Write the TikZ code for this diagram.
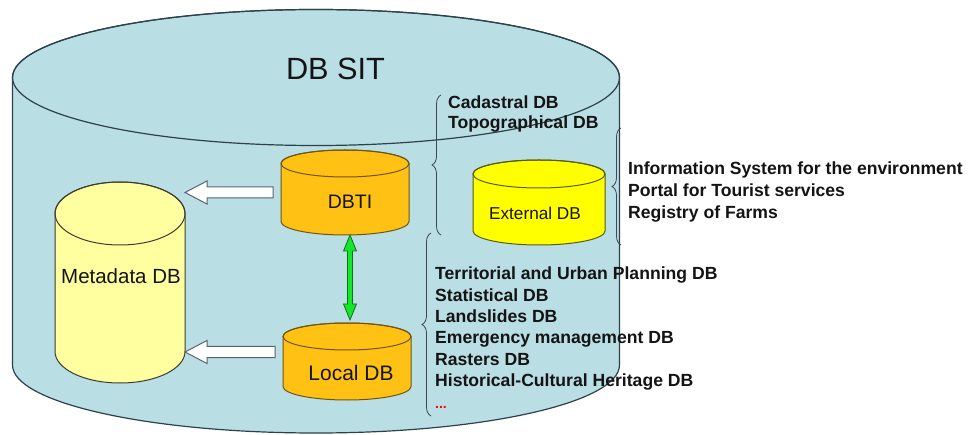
\documentclass[tikz,border=0pt]{standalone}
\usepackage{fontspec}
\setmainfont{Liberation Sans}
\usetikzlibrary{calc,decorations.pathreplacing}
\definecolor{sitfill}{RGB}{185,222,228}
\definecolor{sitdraw}{RGB}{45,65,75}
\definecolor{orangefill}{RGB}{255,193,20}
\definecolor{orangedraw}{RGB}{110,85,20}
\definecolor{extfill}{RGB}{255,255,0}
\definecolor{extdraw}{RGB}{90,90,20}
\definecolor{metafill}{RGB}{255,255,160}
\definecolor{metadraw}{RGB}{60,60,50}
\definecolor{arrowgreen}{RGB}{20,230,40}
\definecolor{arrowgreendraw}{RGB}{20,110,30}
\definecolor{blockdraw}{RGB}{90,100,110}
\definecolor{txt}{RGB}{20,20,20}
\definecolor{bracecol}{RGB}{60,70,80}

\newcommand\mycyl[9]{% #1 name #2 cx #3 ytop #4 ybot #5 rx #6 ry #7 fill #8 draw #9 line width
  \filldraw[fill=#7,draw=#8,line width=#9] (#2-#5,#3) -- (#2-#5,#4)
     arc[start angle=180,end angle=360,x radius=#5pt,y radius=#6pt] -- (#2+#5,#3)
     arc[start angle=0,end angle=180,x radius=#5pt,y radius=#6pt] -- cycle;
  \draw[draw=#8,line width=#9] (#2,#3) ellipse[x radius=#5pt,y radius=#6pt];
  \node[inner sep=0pt,outer sep=0pt,minimum width={2*#5*1pt},minimum height={(#4-#3+2*#6)*1pt}] (#1) at (#2,{(#3+#4)/2}) {};
}

\tikzset{
  listtxt/.style={anchor=base west, inner sep=0pt, font=\bfseries\fontsize{17.6}{21}\selectfont, text=txt},
  dblabel/.style={anchor=base, inner sep=0pt, text=txt},
  bracestyle/.style={draw=bracecol, line width=0.8pt, decorate, decoration={brace, amplitude=9pt}},
  blockarr/.style={draw=blockdraw, fill=white, line width=1pt, line join=miter},
  greenarr/.style={draw=arrowgreendraw, fill=arrowgreen, line width=0.8pt, line join=miter},
}

\begin{document}
\begin{tikzpicture}[x=1pt,y=-1pt]
\fill[white] (0,0) rectangle (974,435);
\useasboundingbox (0,0) rectangle (974,435);

% outer cylinder
\mycyl{sit}{316}{77.5}{365}{303.5}{68}{sitfill}{sitdraw}{1.2pt}
\node[dblabel, font=\fontsize{30.7}{36}\selectfont] (sittitle) at (335.5,79.3) {DB SIT};

% inner cylinders
\mycyl{meta}{120}{213.5}{351.5}{65}{31.5}{metafill}{metadraw}{1pt}
\mycyl{dbti}{345}{163.5}{221.5}{64}{13.5}{orangefill}{orangedraw}{1pt}
\mycyl{local}{347}{336.5}{386.5}{64}{13.5}{orangefill}{orangedraw}{1pt}
\mycyl{ext}{539}{174}{231}{66}{14}{extfill}{extdraw}{1pt}

\node[dblabel, font=\fontsize{20.5}{24}\selectfont] (metalabel) at (121,284) {Metadata DB};
\node[dblabel, font=\fontsize{19.5}{24}\selectfont] (dbtilabel) at (350,208.3) {DBTI};
\node[dblabel, font=\fontsize{21}{24}\selectfont] (locallabel) at (351,380) {Local DB};
\node[dblabel, font=\fontsize{17.2}{20}\selectfont] (extlabel) at (535,220) {External DB};

% white block arrows
\draw[blockarr] let \p1=(meta.east |- dbti.center), \p2=(dbti.west) in
  (\x1,\y1) -- (\x1+22pt,\y1+11.5pt) -- (\x1+22pt,\y1+5.5pt) -- (\x2-8pt,\y1+5.5pt)
  -- (\x2-8pt,\y1-5.5pt) -- (\x1+22pt,\y1-5.5pt) -- (\x1+22pt,\y1-11.5pt) -- cycle;
\draw[blockarr] let \p1=(meta.east |- {$(local.center)+(0,-9.5)$}), \p2=(local.west) in
  (\x1,\y1) -- (\x1+22pt,\y1+11.5pt) -- (\x1+22pt,\y1+5.5pt) -- (\x2-8pt,\y1+5.5pt)
  -- (\x2-8pt,\y1-5.5pt) -- (\x1+22pt,\y1-5.5pt) -- (\x1+22pt,\y1-11.5pt) -- cycle;

% green double arrow
\draw[greenarr] let \p1=($(dbti.south)+(5,0)$), \p2=($(local.north)+(0,-3)$) in
  (\x1,\y1) -- (\x1+6.5pt,\y1-16pt) -- (\x1+2.5pt,\y1-16pt) -- (\x1+2.5pt,\y2+16pt)
  -- (\x1+6.5pt,\y2+16pt) -- (\x1,\y2) -- (\x1-6.5pt,\y2+16pt) -- (\x1-2.5pt,\y2+16pt)
  -- (\x1-2.5pt,\y1-16pt) -- (\x1-6.5pt,\y1-16pt) -- cycle;

% braces
\draw[bracestyle] (441,235) -- (441,95);
\draw[bracestyle] (431,416) -- (431,233);
\draw[bracestyle] (621,245) -- (621,128);

% lists
\foreach \t [count=\i] in {Cadastral DB, Topographical DB}
  \node[listtxt] (top\i) at (448,{108.5+20*(\i-1)}) {\t};
\foreach \t [count=\i] in {Information System for the environment, Portal for Tourist services, Registry of Farms}
  \node[listtxt] (ext\i) at (628,{175+21.7*(\i-1)}) {\t};
\foreach \t [count=\i] in {Territorial and Urban Planning DB, Statistical DB, Landslides DB, Emergency management DB, Rasters DB, Historical-Cultural Heritage DB}
  \node[listtxt] (loc\i) at (435,{280+21.3*(\i-1)}) {\t};
\node[listtxt, text=red, font=\bfseries\fontsize{14}{16}\selectfont] (locmore) at (435,408) {...};
\end{tikzpicture}
\end{document}
